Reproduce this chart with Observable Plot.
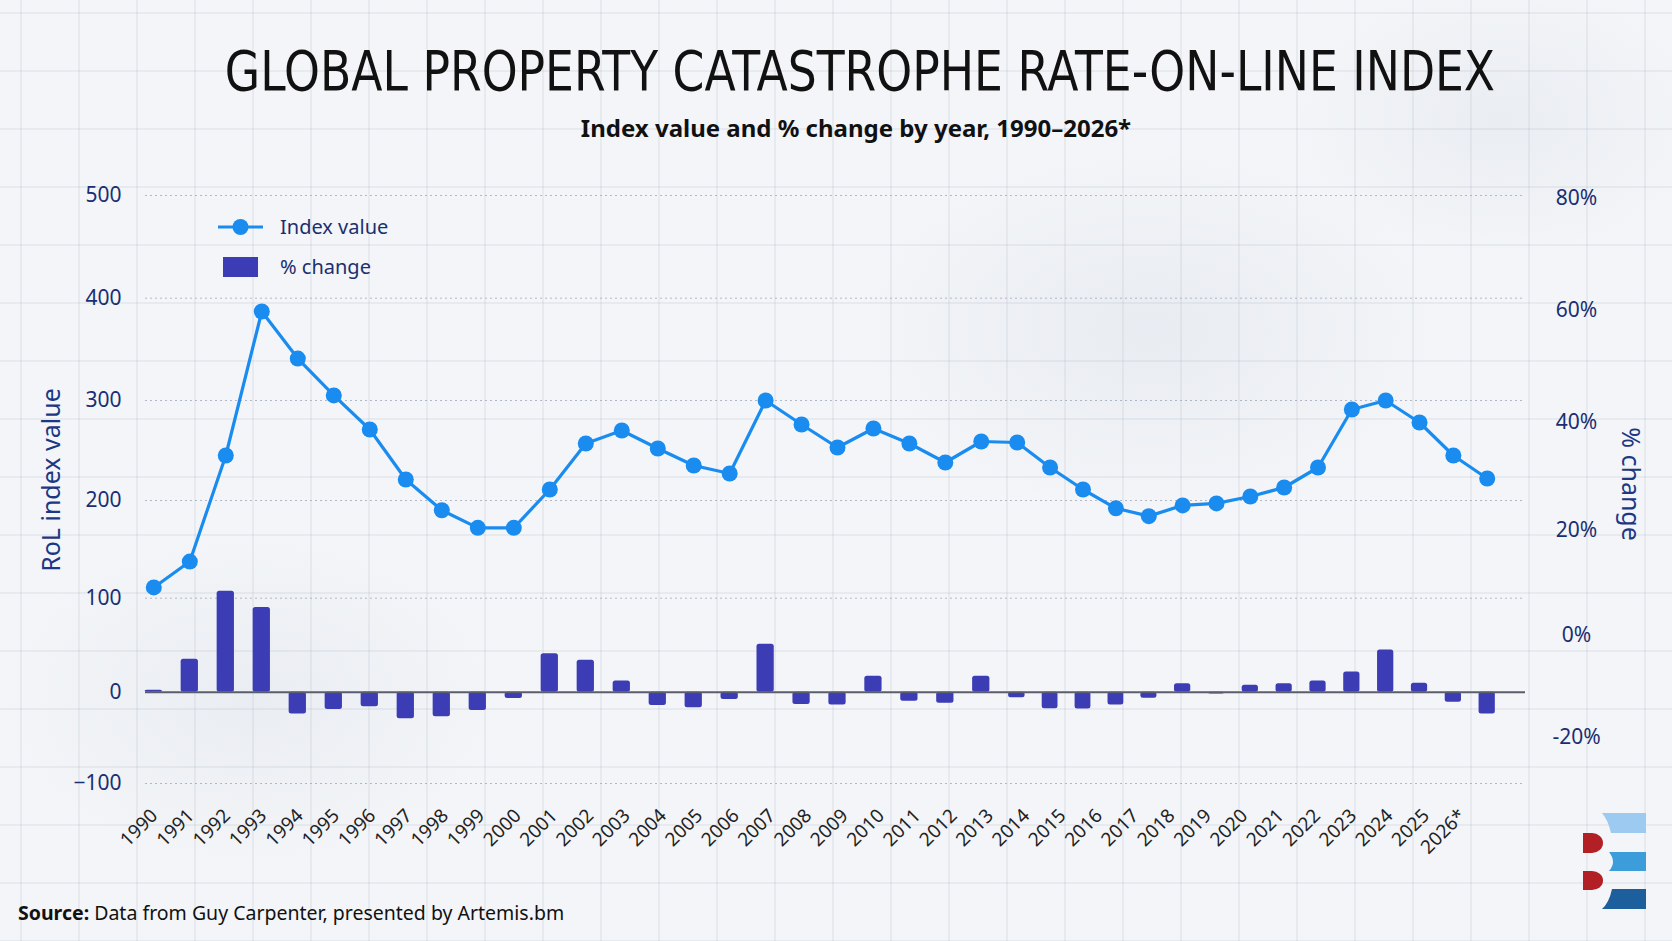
<!DOCTYPE html>
<html>
<head>
<meta charset="utf-8">
<script src="https://cdn.jsdelivr.net/npm/d3@7"></script>
<script src="https://cdn.jsdelivr.net/npm/@observablehq/plot@0.6"></script>
<style>
  html, body { margin: 0; padding: 0; }
  body {
    width: 1672px; height: 941px; overflow: hidden;
    background-color: #f3f5f8;
    background-image:
      radial-gradient(ellipse 420px 260px at 1150px 330px, rgba(170,180,198,0.15), transparent 70%),
      radial-gradient(ellipse 360px 240px at 250px 700px, rgba(170,180,198,0.13), transparent 70%),
      radial-gradient(ellipse 300px 200px at 1500px 120px, rgba(170,180,198,0.13), transparent 70%),
      linear-gradient(rgba(165,175,195,0.16) 1.5px, transparent 1.5px),
      linear-gradient(90deg, rgba(165,175,195,0.16) 1.5px, transparent 1.5px);
    background-size: 100% 100%, 100% 100%, 100% 100%, 58px 58px, 58px 58px;
    background-position: 0 0, 0 0, 0 0, 20px 12px, 20px 12px;
    font-family: "Noto Sans", "Open Sans", sans-serif;
  }
  #wrap { position: relative; width: 1672px; height: 941px; }
  #title {
    position: absolute; left: 860px; top: 36px; white-space: nowrap;
    transform: translateX(-50%) scaleX(0.815);
    font-family: "DejaVu Sans", sans-serif;
    font-size: 56px; line-height: 70px; color: #111;
  }
  #subtitle {
    position: absolute; left: 856px; top: 113px; white-space: nowrap;
    transform: translateX(-50%);
    font-family: "Noto Sans", sans-serif; font-weight: 700; font-size: 24px;
    line-height: 30px; color: #111;
  }
  #chart { position: absolute; left: 0; top: 150px; }
  #legend { position: absolute; left: 0; top: 0; width: 1672px; height: 941px; pointer-events: none; }
  .axis-title {
    position: absolute; white-space: nowrap; font-size: 25px; color: #1d3783;
    font-family: "Noto Sans", sans-serif; line-height: 30px;
  }
  #ytitle-left { left: 50px; top: 480px; transform: translate(-50%, -50%) rotate(-90deg); }
  #ytitle-right { left: 1632px; top: 484px; transform: translate(-50%, -50%) rotate(90deg); }
  #caption {
    position: absolute; left: 18px; top: 899px; font-size: 19.5px; color: #111;
    font-family: "Noto Sans", sans-serif;
  }
  #caption b { font-weight: 700; }
  #logo { position: absolute; left: 1580px; top: 810px; }
</style>
</head>
<body>
<div id="wrap">
  <div id="title">GLOBAL PROPERTY CATASTROPHE RATE-ON-LINE INDEX</div>
  <div id="subtitle">Index value and % change by year, 1990–2026*</div>
  <div id="chart"></div>
  <div class="axis-title" id="ytitle-left">RoL index value</div>
  <div class="axis-title" id="ytitle-right">% change</div>
  <svg id="legend" width="1672" height="941">
    <line x1="218" x2="263" y1="227" y2="227" stroke="#1a8cf0" stroke-width="3.2"/>
    <circle cx="240.5" cy="227" r="8" fill="#1a8cf0"/>
    <text x="280" y="227" dy="0.35em" font-size="20" fill="#1b2f6e" font-family="Noto Sans, sans-serif">Index value</text>
    <rect x="223" y="257" width="35" height="20" fill="#3c3cb4"/>
    <text x="280" y="267" dy="0.35em" font-size="20" fill="#1b2f6e" font-family="Noto Sans, sans-serif">% change</text>
  </svg>
  <div id="caption"><b>Source:</b> Data from Guy Carpenter, presented by Artemis.bm</div>
  <svg id="logo" width="72" height="102" viewBox="0 0 72 102">
    <path d="M22,3 H66 V23 H31 Q28,10 22,3 Z" fill="#9ccaf0"/>
    <path d="M3,23 H12 A11,10 0 0 1 12,43 H3 Z" fill="#b21f24"/>
    <path d="M29,42 H66 V61 H29 Q37,52 29,42 Z" fill="#3d9ddb"/>
    <path d="M3,61 H12 A11,9.5 0 0 1 12,80 H3 Z" fill="#b21f24"/>
    <path d="M22,99 H66 V79 H32 Q29,93 22,99 Z" fill="#1d5e9c"/>
  </svg>
</div>
<script>
// ---- data ----
const xLabels = ["1990","1991","1992","1993","1994","1995","1996","1997","1998","1999",
  "2000","2001","2002","2003","2004","2005","2006","2007","2008","2009",
  "2010","2011","2012","2013","2014","2015","2016","2017","2018","2019",
  "2020","2021","2022","2023","2024","2025","2026*"];

const indexValues = [111, 137.5, 245, 387, 341, 305, 271, 221, 190, 172,
  172, 211, 257, 270, 252, 235, 227, 300, 276, 253,
  272, 257, 238, 259, 258, 233, 211, 192, 184, 195,
  197, 204, 213, 233, 291, 300, 278, 245, 222];

const pctChange = [2, 35, 107, 90, -24, -19, -16, -29, -27, -20,
  -7, 41, 34, 12, -14.5, -17, -8, 51, -13.5, -14,
  17, -10, -12, 17, -6, -18, -18.5, -14, -6.5, 9,
  -2, 7.5, 9, 12, 21.5, 45, 9.5, -11, -24];

const leftTicks = [-100, 0, 100, 200, 300, 400, 500];
const rightTicks = [-20, 0, 20, 40, 60, 80];

// ---- chart configuration (scale layout matching the reference's uneven spacing) ----
const navy = "#1a2e72";
const lineColor = "#1a8cf0";
const barColor = "#3c3cb4";
const xDomain = [0, 14, 24, 28, 38];
const xRange = [153.3, 657.3, 1016.7, 1148.3, 1486.7];
const yRange = [633, 541.7, 447.7, 350, 250, 147.7, 45];
const labelFirstPx = 154, labelStepPx = 36.33;          // year labels are evenly spread
const pxToIndex = d3.scaleLinear(xRange, xDomain);
const labelPos = xLabels.map((_, k) => pxToIndex(labelFirstPx + k * labelStepPx));
const labelAt = d => xLabels[labelPos.findIndex(p => Math.abs(p - d) < 1e-6)];
const pctZero = 60.3, pctUnit = 5.46;                   // secondary (% change) axis placement
const pctToLeft = p => pctZero + p * pctUnit;
const leftToPct = v => Math.round((v - pctZero) / pctUnit);

const points = indexValues.map((v, i) => ({i, v}));
const bars = pctChange.map((v, i) => ({i, v}));

const chart = Plot.plot({
  width: 1672,
  height: 700,
  marginLeft: 145,
  marginRight: 147,
  marginTop: 45,
  marginBottom: 46,
  style: {fontFamily: "'Noto Sans', sans-serif", background: "transparent", overflow: "visible"},
  x: {type: "linear", domain: xDomain, range: xRange},
  y: {type: "linear", domain: leftTicks, range: yRange},
  marks: [
    Plot.gridY(leftTicks.filter(t => t !== 0), {stroke: "#8f98aa", strokeOpacity: 0.65, strokeDasharray: "2,3", strokeWidth: 1}),
    Plot.rect(bars, {x1: d => d.i - 0.24, x2: d => d.i + 0.24, y1: 0, y2: "v", fill: barColor, rx: 2.5}),
    Plot.ruleY([0], {stroke: "#5a5e6a", strokeWidth: 2}),
    Plot.line(points, {x: "i", y: "v", stroke: lineColor, strokeWidth: 3.2}),
    Plot.dot(points, {x: "i", y: "v", r: 8, fill: lineColor}),
    Plot.axisY(leftTicks, {anchor: "left", tickSize: 0, tickPadding: 24, fontSize: 21, fill: navy, label: null}),
    Plot.axisY(rightTicks.map(pctToLeft), {anchor: "right", tickSize: 0, tickPadding: 51, textAnchor: "middle",
      tickFormat: v => leftToPct(v) + "%", fontSize: 21, fill: navy, label: null}),
    Plot.axisX(labelPos, {anchor: "bottom", tickSize: 0, tickPadding: 8, tickRotate: -45,
      tickFormat: labelAt, fontSize: 19, fill: "#222", label: null})
  ]
});
document.getElementById("chart").appendChild(chart);
</script>
</body>
</html>
